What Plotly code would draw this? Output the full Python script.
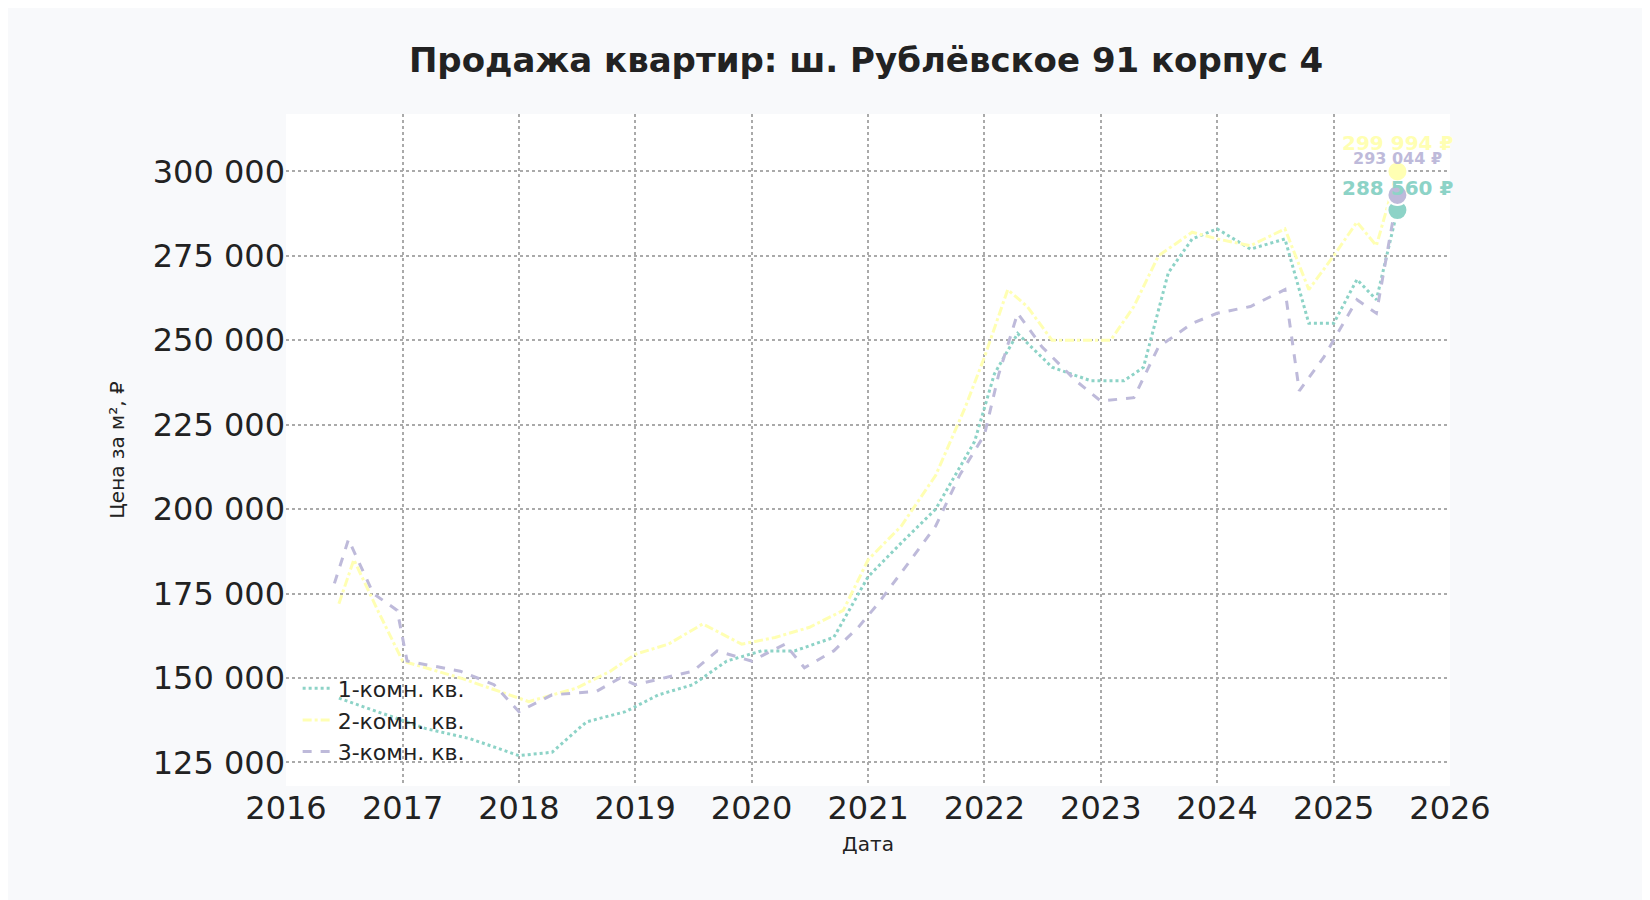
import plotly.graph_objects as go

# Price per m2, approximate readings (monthly-ish)
dates_1 = ["2016-06-15", "2016-10-15", "2017-03-15", "2017-08-01", "2018-01-01", "2018-04-15",
           "2018-08-01", "2018-12-01", "2019-03-15", "2019-07-01", "2019-10-15", "2020-02-01",
           "2020-05-15", "2020-09-15", "2021-01-01", "2021-04-15", "2021-08-01", "2021-12-01",
           "2022-02-01", "2022-04-15", "2022-08-01", "2022-12-01", "2023-03-15", "2023-05-15",
           "2023-08-01", "2023-10-15", "2024-01-01", "2024-04-15", "2024-08-01", "2024-10-15",
           "2025-01-01", "2025-03-15", "2025-05-15", "2025-07-20"]
one_room = [144000, 140000, 135000, 132000, 127000, 128000,
            137000, 140000, 145000, 148000, 155000, 158000,
            158000, 162000, 180000, 190000, 200000, 220000,
            240000, 252000, 242000, 238000, 238000, 242000,
            270000, 280000, 283000, 277000, 280000, 255000,
            255000, 268000, 262000, 288560]

dates_2 = ["2016-06-15", "2016-08-01", "2016-10-15", "2017-01-01", "2017-07-01", "2017-12-01",
           "2018-02-01", "2018-07-01", "2018-10-15", "2019-01-01", "2019-04-15", "2019-08-01",
           "2019-12-01", "2020-03-15", "2020-07-01", "2020-10-15", "2021-01-01", "2021-04-15",
           "2021-08-01", "2021-11-01", "2022-01-01", "2022-03-15", "2022-05-15", "2022-08-01",
           "2022-12-01", "2023-02-01", "2023-04-15", "2023-07-01", "2023-10-15", "2024-01-01",
           "2024-04-15", "2024-08-01", "2024-10-15", "2025-01-01", "2025-03-15", "2025-05-15",
           "2025-07-20"]
two_room = [172000, 185000, 170000, 155000, 150000, 145000,
            143000, 147000, 152000, 157000, 160000, 166000,
            160000, 162000, 165000, 170000, 185000, 195000,
            210000, 230000, 245000, 265000, 260000, 250000,
            250000, 250000, 260000, 275000, 282000, 280000,
            278000, 283000, 265000, 275000, 285000, 278000,
            299994]

dates_3 = ["2016-06-01", "2016-07-15", "2016-10-01", "2016-12-15", "2017-01-15", "2017-07-01",
           "2017-10-15", "2018-01-01", "2018-04-15", "2018-09-01", "2018-11-15", "2019-01-01",
           "2019-07-01", "2019-09-15", "2020-01-01", "2020-04-15", "2020-06-15", "2020-09-15",
           "2020-12-01", "2021-02-01", "2021-05-15", "2021-08-01", "2021-10-15", "2022-01-01",
           "2022-02-15", "2022-04-15", "2022-07-01", "2022-10-15", "2023-01-01", "2023-04-15",
           "2023-07-01", "2023-10-15", "2024-01-01", "2024-04-15", "2024-08-01", "2024-09-15",
           "2024-12-01", "2025-01-01", "2025-03-15", "2025-05-15", "2025-07-20"]
three_room = [178000, 191000, 175000, 170000, 155000, 152000,
              148000, 140000, 145000, 146000, 150000, 148000,
              152000, 158000, 155000, 160000, 153000, 158000,
              165000, 172000, 185000, 195000, 210000, 222000,
              240000, 258000, 248000, 238000, 232000, 233000,
              248000, 255000, 258000, 260000, 265000, 235000,
              245000, 250000, 262000, 258000, 293044]

series = [
    ("1-комн. кв.", dates_1, one_room, "#8dd3c7", "dot", "288 560 ₽"),
    ("2-комн. кв.", dates_2, two_room, "#ffffb3", "dashdot", "299 994 ₽"),
    ("3-комн. кв.", dates_3, three_room, "#bebada", "dash", "293 044 ₽"),
]

fig = go.Figure()
for name, x, y, color, dash, label in series:
    fig.add_trace(go.Scatter(x=x, y=y, name=name, mode="lines",
                             line=dict(color=color, width=3, dash=dash)))
for name, x, y, color, dash, label in series:
    fig.add_trace(go.Scatter(x=[x[-1]], y=[y[-1]], mode="markers", showlegend=False,
                             marker=dict(color=color, size=20, line=dict(color="white", width=2))))

label_shift = {"288 560 ₽": 22, "299 994 ₽": 28, "293 044 ₽": 36}
label_size = {"288 560 ₽": 20, "299 994 ₽": 20, "293 044 ₽": 16}
for name, x, y, color, dash, label in series:
    fig.add_annotation(x=x[-1], y=y[-1], text="<b>" + label + "</b>", showarrow=False,
                       xanchor="center", yshift=label_shift[label],
                       font=dict(color=color, size=label_size[label], family="DejaVu Sans"))

fig.update_layout(
    width=1650, height=900,
    title=dict(text="<b>Продажа квартир: ш. Рублёвское 91 корпус 4</b>", x=0.52, y=0.955,
               font=dict(size=34, color="#222222", family="DejaVu Sans")),
    paper_bgcolor="#f8f9fb", plot_bgcolor="white",
    font=dict(family="DejaVu Sans", color="#222222"),
    margin=dict(l=278, r=208, t=106, b=122),
    legend=dict(x=0.01, y=0.02, xanchor="left", yanchor="bottom", bgcolor="rgba(0,0,0,0)",
                font=dict(size=22)),
)
fig.update_xaxes(range=["2016-01-01", "2026-01-01"], dtick="M12", tickformat="%Y",
                 showgrid=True, gridcolor="#aaaaaa", griddash="dot", gridwidth=2,
                 tickfont=dict(size=32), title=dict(text="Дата", font=dict(size=20), standoff=10),
                 zeroline=False)
fig.update_yaxes(range=[118000, 317000], tickvals=[125000, 150000, 175000, 200000, 225000,
                                                  250000, 275000, 300000],
                 ticktext=["125 000", "150 000", "175 000", "200 000", "225 000",
                           "250 000", "275 000", "300 000"],
                 showgrid=True, gridcolor="#aaaaaa", griddash="dot", gridwidth=2,
                 tickfont=dict(size=32), title=dict(text="Цена за м², ₽", font=dict(size=20), standoff=22),
                 zeroline=False)

fig.write_html("out.html")
